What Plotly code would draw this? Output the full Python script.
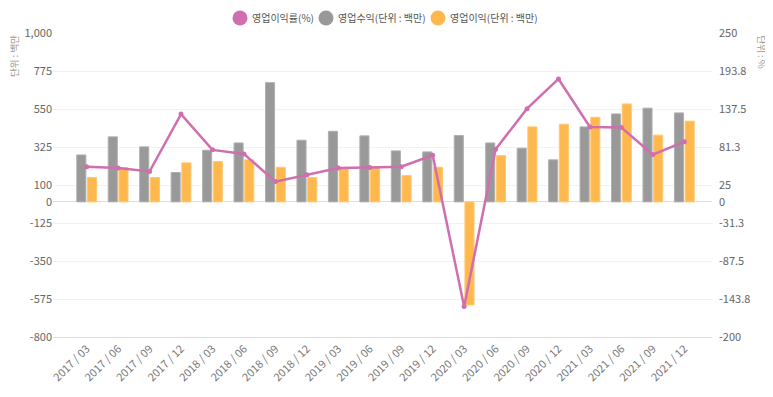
import plotly.graph_objects as go

quarters = ["2017 / 03", "2017 / 06", "2017 / 09", "2017 / 12",
            "2018 / 03", "2018 / 06", "2018 / 09", "2018 / 12",
            "2019 / 03", "2019 / 06", "2019 / 09", "2019 / 12",
            "2020 / 03", "2020 / 06", "2020 / 09", "2020 / 12",
            "2021 / 03", "2021 / 06", "2021 / 09", "2021 / 12"]
revenue = [278, 385, 326, 174, 306, 349, 706, 365, 418, 391,
           302, 296, 393, 349, 318, 249, 444, 521, 555, 527]
op_profit = [144, 203, 144, 231, 239, 249, 205, 144, 200, 209,
             156, 205, -610, 274, 444, 460, 501, 580, 395, 478]
op_margin = [52, 50, 45, 130, 77, 71, 30, 40, 50, 51,
             52, 69, -155, 78, 138, 182, 111, 110, 70, 89]

left_ticks = [1000, 775, 550, 325, 100, 0, -125, -350, -575, -800]
left_text = ["1,000", "775", "550", "325", "100", "0", "-125", "-350", "-575", "-800"]
right_ticks = [250, 193.75, 137.5, 81.25, 25, 0, -31.25, -87.5, -143.75, -200]
right_text = ["250", "193.8", "137.5", "81.3", "25", "0", "-31.3", "-87.5", "-143.8", "-200"]

names = ["영업이익률(%)", "영업수익(단위 : 백만)", "영업이익(단위 : 백만)"]
c_line = "#CF6FB0"
c_rev = "#999999"
c_op = "#FFB84D"
colors = [c_line, c_rev, c_op]

FONT = "Noto Sans CJK KR, Noto Sans, sans-serif"
x = list(range(len(quarters)))

# page has an 8px body margin; figure is sized to end at the window edge
W, H = 765, 389
ML, MT = 45, 25
pw, ph = 659, 304
MR = W - ML - pw
MB = H - MT - ph


def px_x(p):
    return (p - ML) / pw


def px_y(p):
    return 1 - (p - MT) / ph


fig = go.Figure()
fig.add_trace(go.Bar(x=x, y=revenue, name=names[1],
                     marker=dict(color=c_rev, line=dict(color="#b0b0b0", width=1)),
                     showlegend=False, yaxis="y"))
fig.add_trace(go.Bar(x=x, y=op_profit, name=names[2],
                     marker=dict(color=c_op, line=dict(color="#ffc870", width=1)),
                     showlegend=False, yaxis="y"))
fig.add_trace(go.Scatter(x=x, y=op_margin, name=names[0], mode="lines+markers",
                         line=dict(color=c_line, width=2.5), marker=dict(size=5, color=c_line),
                         showlegend=False, yaxis="y2"))

# legend (circle + label), laid out like the reference
leg_circle_px = [232, 318, 430]
leg_y_px = 10
shapes = []
annotations = []
for n, c, cx in zip(names, colors, leg_circle_px):
    shapes.append(dict(type="circle", xref="paper", yref="paper",
                       xsizemode="pixel", ysizemode="pixel",
                       xanchor=px_x(cx), yanchor=px_y(leg_y_px),
                       x0=-7.5, x1=7.5, y0=-7.5, y1=7.5,
                       fillcolor=c, line=dict(width=0)))
    annotations.append(dict(text=n, x=px_x(cx + 10), y=px_y(leg_y_px), xref="paper", yref="paper",
                            showarrow=False, xanchor="left", yanchor="middle",
                            font=dict(size=10, color="#555555")))

annotations.append(dict(text="단위 : 백만", x=px_x(6), y=px_y(26), xref="paper", yref="paper",
                        showarrow=False, textangle=-90, xanchor="center", yanchor="top",
                        borderpad=0, font=dict(size=9.5, color="#999999")))
annotations.append(dict(text="단위 : %", x=px_x(753), y=px_y(26), xref="paper", yref="paper",
                        showarrow=False, textangle=90, xanchor="center", yanchor="top",
                        borderpad=0, font=dict(size=9.5, color="#999999")))

fig.update_layout(
    width=W, height=H,
    margin=dict(l=ML, r=MR, t=MT, b=MB, autoexpand=False),
    paper_bgcolor="white", plot_bgcolor="white",
    font=dict(family=FONT, size=11, color="#666666"),
    barmode="group", bargap=0.32, bargroupgap=0.15,
    showlegend=False,
    xaxis=dict(range=[-1.07, 19.88], tickvals=x, ticktext=quarters, tickangle=-45,
               showgrid=False, zeroline=False, showline=True, linecolor="#dddddd", linewidth=1,
               ticks="", tickfont=dict(size=11, color="#777777")),
    yaxis=dict(range=[-800, 1000], tickvals=left_ticks, ticktext=left_text,
               showgrid=True, gridcolor="#f2f2f2", gridwidth=1,
               zeroline=True, zerolinecolor="#dddddd", zerolinewidth=1,
               tickfont=dict(size=11, color="#666666"), ticks=""),
    yaxis2=dict(range=[-200, 250], tickvals=right_ticks, ticktext=right_text,
                overlaying="y", side="right", showgrid=False, zeroline=False,
                tickfont=dict(size=11, color="#666666"), ticks="", ticklabelstandoff=6),
    shapes=shapes,
    annotations=annotations,
)

fig.write_html("out.html")
